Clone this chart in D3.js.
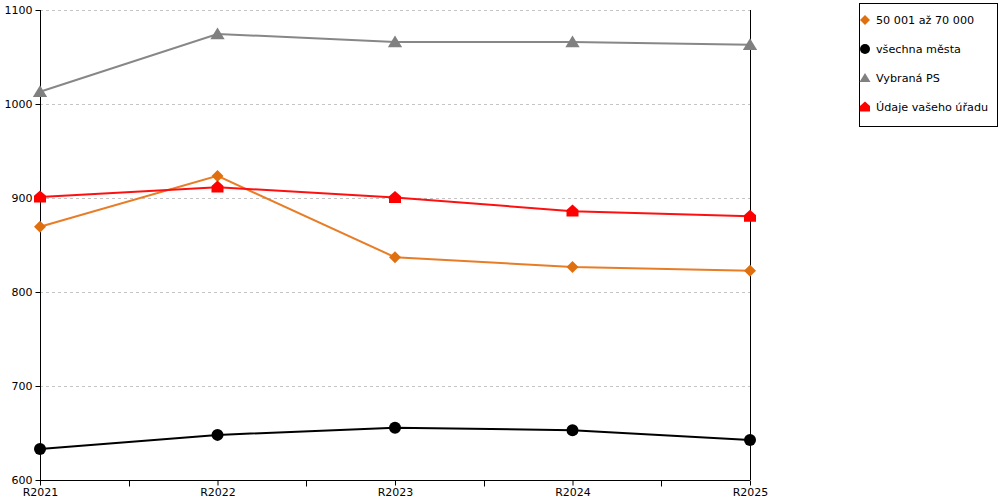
<!DOCTYPE html>
<html><head><meta charset="utf-8">
<script src="https://cdn.jsdelivr.net/npm/d3@7"></script>
<style>body{margin:0;background:#fff}svg{display:block;font-family:"DejaVu Sans",sans-serif}</style>
</head><body><svg id="c" width="1000" height="500"></svg>
<script>
const categories = ["R2021","R2022","R2023","R2024","R2025"];
const yTicks = [600,700,800,900,1000,1100];
const seriesNames = ["50 001 až 70 000","všechna města","Vybraná PS","Údaje vašeho úřadu"];
const valsOrange = [869.5, 923.5, 837, 826.5, 822.5];
const valsBlack = [633, 648, 655.5, 653, 642.5];
const valsGray = [1013, 1074.5, 1066, 1066, 1063];
const valsRed = [901, 911.5, 900.5, 886, 880.5];

const series = [
  {name: seriesNames[0], values: valsOrange, line: "#e87d27", fill: "#e0700f", shape: "diamond"},
  {name: seriesNames[1], values: valsBlack, line: "#000", fill: "#000", shape: "circle"},
  {name: seriesNames[2], values: valsGray, line: "#878787", fill: "#808080", shape: "triangle"},
  {name: seriesNames[3], values: valsRed, line: "#ff1010", fill: "#ff0000", shape: "house"}
];

const svg = d3.select("#c");
const L = 40, R = 750, T = 10, B = 480;
const x = d3.scalePoint().domain(categories).range([L, R]);
const y = d3.scaleLinear().domain([600, 1100]).range([B, T]);

// grid
svg.append("g").selectAll("line").data(yTicks.filter(v => v > 600)).join("line")
  .attr("x1", L).attr("x2", R).attr("y1", d => y(d) + 0.5).attr("y2", d => y(d) + 0.5)
  .attr("stroke", "#c4c4c4").attr("stroke-dasharray", "3,3");

function markerPath(shape, s) {
  if (shape === "diamond") return `M0,${-s}L${s},0L0,${s}L${-s},0Z`;
  if (shape === "circle") return d3.symbol(d3.symbolCircle, Math.PI * s * s)();
  if (shape === "triangle") return `M0,${-s}L${s * 1.1},${s * 0.8}L${-s * 1.1},${s * 0.8}Z`;
  if (shape === "house") return `M0,${-s * 1.1}L${s},${-s * 0.2}L${s},${s * 0.9}L${-s},${s * 0.9}L${-s},${-s * 0.2}Z`;
}

// lines
const line = d3.line().x((d, i) => x(categories[i])).y(d => y(d));
series.forEach(s => {
  svg.append("path").attr("d", line(s.values)).attr("fill", "none")
    .attr("stroke", s.line).attr("stroke-width", 2);
});

// axes
const yAxis = d3.axisLeft(y).tickValues(yTicks).tickSize(5).tickPadding(3).tickFormat(d3.format("d"));
const gy = svg.append("g").attr("transform", `translate(${L + 0.5},0)`).call(yAxis);
gy.select(".domain").attr("d", `M0,${T}V${B}`);
gy.selectAll("text").attr("font-size", 11).attr("fill", "#000").attr("font-family", "DejaVu Sans");

const xAxis = d3.axisBottom(x).tickSize(5).tickPadding(3);
const gx = svg.append("g").attr("transform", `translate(0,${B + 0.5})`).call(xAxis);
gx.select(".domain").attr("d", `M${L},0H${R}`);
gx.selectAll("text").attr("font-size", 11).attr("fill", "#000").attr("font-family", "DejaVu Sans");
// mid ticks
const mids = categories.slice(1).map((c, i) => (x(categories[i]) + x(c)) / 2);
gx.selectAll(".mid").data(mids).join("line").attr("class", "mid")
  .attr("x1", d => Math.round(d) + 0.5).attr("x2", d => Math.round(d) + 0.5).attr("y1", 0).attr("y2", 6).attr("stroke", "#000");

// right line
svg.append("line").attr("x1", R + 0.5).attr("x2", R + 0.5).attr("y1", T).attr("y2", B).attr("stroke", "#000");

// markers
const sizes = {diamond: 6, circle: 6, triangle: 6.5, house: 6};
series.forEach(s => {
  svg.append("g").selectAll("path").data(s.values).join("path")
    .attr("transform", (d, i) => `translate(${x(categories[i])},${y(d)})`)
    .attr("d", markerPath(s.shape, sizes[s.shape])).attr("fill", s.fill);
});

// legend
const lg = svg.append("g");
lg.append("rect").attr("x", 859.5).attr("y", 3.5).attr("width", 138).attr("height", 123)
  .attr("fill", "#fff").attr("stroke", "#000");
series.forEach((s, i) => {
  const cy = 20 + i * 29;
  lg.append("path").attr("transform", `translate(865,${cy})`)
    .attr("d", markerPath(s.shape, 5)).attr("fill", s.fill);
  lg.append("text").attr("x", 876).attr("y", cy + 4).attr("font-size", 11.2).text(s.name);
});
</script></body></html>
